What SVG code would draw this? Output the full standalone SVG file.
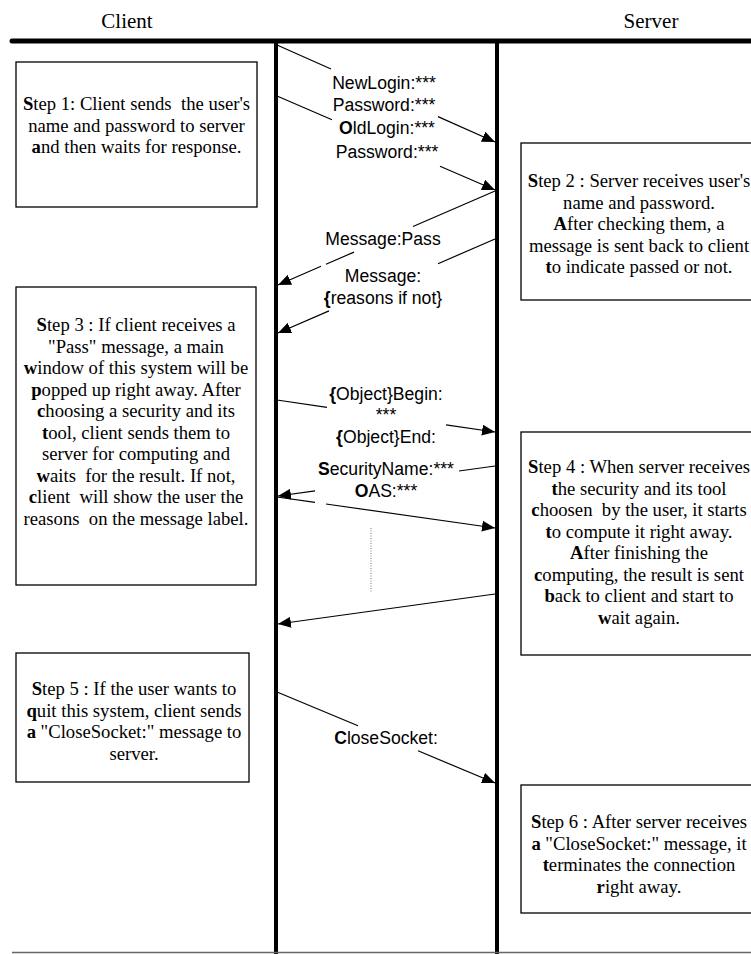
<svg xmlns="http://www.w3.org/2000/svg" width="751" height="954" viewBox="0 0 751 954">
<style>
.box{fill:#fff;stroke:#000;stroke-width:1.3}
.st{font-family:"Liberation Serif","Times New Roman",serif;font-size:18.67px;text-anchor:middle;fill:#000}
.hd{font-family:"Liberation Serif","Times New Roman",serif;font-size:21px;text-anchor:middle;fill:#000}
.lb{font-family:"Liberation Sans",Arial,sans-serif;font-size:17.6px;text-anchor:middle;fill:#000}
.b{font-weight:bold}
.msg{fill:none;stroke:#000;stroke-width:1.2}
.life{stroke:#000;stroke-width:4}
</style>
<defs>
<marker id="ah" markerUnits="userSpaceOnUse" markerWidth="13" markerHeight="11" viewBox="0 0 13 11" refX="13" refY="5.5" orient="auto"><path d="M0,0 L13,5.5 L0,11 z" fill="#000"/></marker>
</defs>
<rect width="751" height="954" fill="#fff"/>
<g id="headers">
<text class="hd" x="127" y="28">Client</text>
<text class="hd" x="651" y="28">Server</text>
</g>
<g id="frame">
<line x1="12" y1="41" x2="760" y2="41" stroke="#000" stroke-width="5" stroke-linecap="round"/>
<line class="life" x1="276" y1="41" x2="276" y2="954"/>
<line class="life" x1="497" y1="41" x2="497" y2="954"/>
<line x1="12" y1="952.5" x2="751" y2="952.5" stroke="#666" stroke-width="1.5"/>
</g>
<g id="step1">
<rect class="box" x="16" y="62" width="241" height="145"/>
<text class="st" x="136.5" y="110" xml:space="preserve"><tspan class="b">S</tspan>tep 1: Client sends  the user's</text>
<text class="st" x="136.5" y="131.5">name and password to server</text>
<text class="st" x="136.5" y="153"><tspan class="b">a</tspan>nd then waits for response.</text>
</g>
<g id="step2">
<rect class="box" x="521" y="143" width="240" height="157"/>
<text class="st" x="639" y="187"><tspan class="b">S</tspan>tep 2 : Server receives user's</text>
<text class="st" x="639" y="208.5">name and password.</text>
<text class="st" x="639" y="230"><tspan class="b">A</tspan>fter checking them, a</text>
<text class="st" x="639" y="251.5">message is sent back to client</text>
<text class="st" x="639" y="273"><tspan class="b">t</tspan>o indicate passed or not.</text>
</g>
<g id="step3">
<rect class="box" x="16" y="287" width="240" height="298"/>
<text class="st" x="136" y="331"><tspan class="b">S</tspan>tep 3 : If client receives a</text>
<text class="st" x="136" y="352.5">"Pass" message, a main</text>
<text class="st" x="136" y="374"><tspan class="b">w</tspan>indow of this system will be</text>
<text class="st" x="136" y="395.5"><tspan class="b">p</tspan>opped up right away. After</text>
<text class="st" x="136" y="417"><tspan class="b">c</tspan>hoosing a security and its</text>
<text class="st" x="136" y="438.5"><tspan class="b">t</tspan>ool, client sends them to</text>
<text class="st" x="136" y="460">server for computing and</text>
<text class="st" x="136" y="481.5" xml:space="preserve"><tspan class="b">w</tspan>aits  for the result. If not,</text>
<text class="st" x="136" y="503" xml:space="preserve"><tspan class="b">c</tspan>lient  will show the user the</text>
<text class="st" x="136" y="524.5" xml:space="preserve">reasons  on the message label.</text>
</g>
<g id="step4">
<rect class="box" x="521" y="432" width="240" height="223"/>
<text class="st" x="639" y="473"><tspan class="b">S</tspan>tep 4 : When server receives</text>
<text class="st" x="639" y="494.5"><tspan class="b">t</tspan>he security and its tool</text>
<text class="st" x="639" y="516" xml:space="preserve"><tspan class="b">c</tspan>hoosen  by the user, it starts</text>
<text class="st" x="639" y="537.5"><tspan class="b">t</tspan>o compute it right away.</text>
<text class="st" x="639" y="559"><tspan class="b">A</tspan>fter finishing the</text>
<text class="st" x="639" y="580.5"><tspan class="b">c</tspan>omputing, the result is sent</text>
<text class="st" x="639" y="602"><tspan class="b">b</tspan>ack to client and start to</text>
<text class="st" x="639" y="623.5"><tspan class="b">w</tspan>ait again.</text>
</g>
<g id="step5">
<rect class="box" x="16" y="653" width="233" height="129"/>
<text class="st" x="134" y="695"><tspan class="b">S</tspan>tep 5 : If the user wants to</text>
<text class="st" x="134" y="716.5"><tspan class="b">q</tspan>uit this system, client sends</text>
<text class="st" x="134" y="738"><tspan class="b">a</tspan> "CloseSocket:" message to</text>
<text class="st" x="134" y="759.5">server.</text>
</g>
<g id="step6">
<rect class="box" x="521" y="785" width="240" height="128"/>
<text class="st" x="639" y="828"><tspan class="b">S</tspan>tep 6 : After server receives</text>
<text class="st" x="639" y="849.5"><tspan class="b">a</tspan> "CloseSocket:" message, it</text>
<text class="st" x="639" y="871"><tspan class="b">t</tspan>erminates the connection</text>
<text class="st" x="639" y="892.5"><tspan class="b">r</tspan>ight away.</text>
</g>
<g id="connectors">
<path class="msg" d="M277,45 L331,69 M438,116.6 L495,142" marker-end="url(#ah)"/>
<path class="msg" d="M277,96 L332,119.7 M440,166.3 L495,190" marker-end="url(#ah)"/>
<path class="msg" d="M495,191 L413,226.5 M354,252.1 L326,264.2 M321,266.3 L278,285" marker-end="url(#ah)"/>
<path class="msg" d="M495,239 L438,263.7 M329,310.9 L278,333" marker-end="url(#ah)"/>
<path class="msg" d="M277,400 L327,407.3 M446,424.8 L495,432" marker-end="url(#ah)"/>
<path class="msg" d="M495,466 L459,471 M315,490.9 L278,496" marker-end="url(#ah)"/>
<path class="msg" d="M277,497 L315,502.4 M326,504 L495,528" marker-end="url(#ah)"/>
<path class="msg" d="M495,594 L278,624" marker-end="url(#ah)"/>
<path class="msg" d="M277,692 L358,725.8 M418,750.8 L495,783" marker-end="url(#ah)"/>
<line x1="371" y1="528" x2="371" y2="593" stroke="#777" stroke-width="1" stroke-dasharray="1 1.5"/>
</g>
<g id="labels">
<text class="lb" x="384" y="89">NewLogin:***</text>
<text class="lb" x="384" y="111">Password:***</text>
<text class="lb" x="387" y="134"><tspan class="b">O</tspan>ldLogin:***</text>
<text class="lb" x="387" y="158">Password:***</text>
<text class="lb" x="383" y="245">Message:Pass</text>
<text class="lb" x="383" y="282">Message:</text>
<text class="lb" x="383" y="304"><tspan class="b">{</tspan>reasons if not}</text>
<text class="lb" x="386" y="400"><tspan class="b">{</tspan>Object}Begin:</text>
<text class="lb" x="386" y="421">***</text>
<text class="lb" x="386" y="443"><tspan class="b">{</tspan>Object}End:</text>
<text class="lb" x="386" y="475"><tspan class="b">S</tspan>ecurityName:***</text>
<text class="lb" x="386" y="497"><tspan class="b">O</tspan>AS:***</text>
<text class="lb" x="386" y="744"><tspan class="b">C</tspan>loseSocket:</text>
</g>
</svg>
